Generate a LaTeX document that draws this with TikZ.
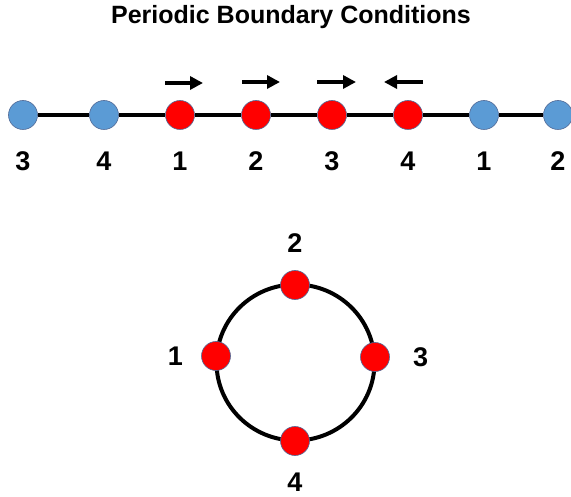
\documentclass[tikz,border=0pt]{standalone}
\usepackage{fontspec}
\setmainfont{Liberation Sans}
\usepackage{xcolor}
\usetikzlibrary{arrows.meta, positioning}
\definecolor{imageblue}{RGB}{91,155,213}
\definecolor{rimblue}{RGB}{80,105,150}
\tikzset{
  ghost/.style={circle, draw=rimblue, line width=0.6pt, fill=imageblue, minimum size=29pt, inner sep=0pt},
  spin/.style={circle, draw=rimblue, line width=0.6pt, fill=red, minimum size=29pt, inner sep=0pt},
  num/.style={font=\fontsize{27}{30}\selectfont\bfseries, inner sep=0pt},
  bond/.style={line width=4pt},
  arrow/.style={-{Triangle[length=13pt, width=13pt]}, line width=4pt},
}

\begin{document}
\begin{tikzpicture}[x=1pt, y=-1pt]
\useasboundingbox (0,0) rectangle (571,497);
\node[font=\fontsize{25}{30}\selectfont\bfseries, anchor=base] (title) at (291,24) {Periodic Boundary Conditions};
% open chain with periodic images
\node[ghost] (g3) at (23,115) {};
\node[ghost] (g4) at (104,115) {};
\node[spin] (s1) at (180,115) {};
\node[spin] (s2) at (256,115) {};
\node[spin] (s3) at (332,115) {};
\node[spin] (s4) at (408,115) {};
\node[ghost] (g1) at (484,115) {};
\node[ghost] (g2) at (558,115) {};
\draw[bond] (g3) -- (g4);
\draw[bond] (g4) -- (s1);
\draw[bond] (s1) -- (s2);
\draw[bond] (s2) -- (s3);
\draw[bond] (s3) -- (s4);
\draw[bond] (s4) -- (g1);
\draw[bond] (g1) -- (g2);
\node[num, below=22pt of g3] {3};
\node[num, below=22pt of g4] {4};
\node[num, below=22pt of s1] {1};
\node[num, below=22pt of s2] {2};
\node[num, below=22pt of s3] {3};
\node[num, below=22pt of s4] {4};
\node[num, below=22pt of g1] {1};
\node[num, below=22pt of g2] {2};
% spin directions
\coordinate (a1) at (165,83);
\coordinate (b1) at (203,83);
\coordinate (a2) at (242,82);
\coordinate (b2) at (280,82);
\coordinate (a3) at (317,82);
\coordinate (b3) at (356,82);
\coordinate (a4) at (423,82);
\coordinate (b4) at (384,82);
\draw[arrow] (a1) -- (b1);
\draw[arrow] (a2) -- (b2);
\draw[arrow] (a3) -- (b3);
\draw[arrow] (a4) -- (b4);
% ring
\coordinate (ctr) at (295.5,362.5);
\draw[bond] (ctr) ellipse[x radius=79pt, y radius=78pt];
\node[spin] (r1) at (216,356) {};
\node[spin] (r2) at (295,285) {};
\node[spin] (r3) at (375,357) {};
\node[spin] (r4) at (295,441) {};
\node[num, left=18pt of r1] {1};
\node[num, above=17pt of r2] {2};
\node[num, right=23pt of r3] {3};
\node[num, below=17pt of r4] {4};
\end{tikzpicture}
\end{document}
